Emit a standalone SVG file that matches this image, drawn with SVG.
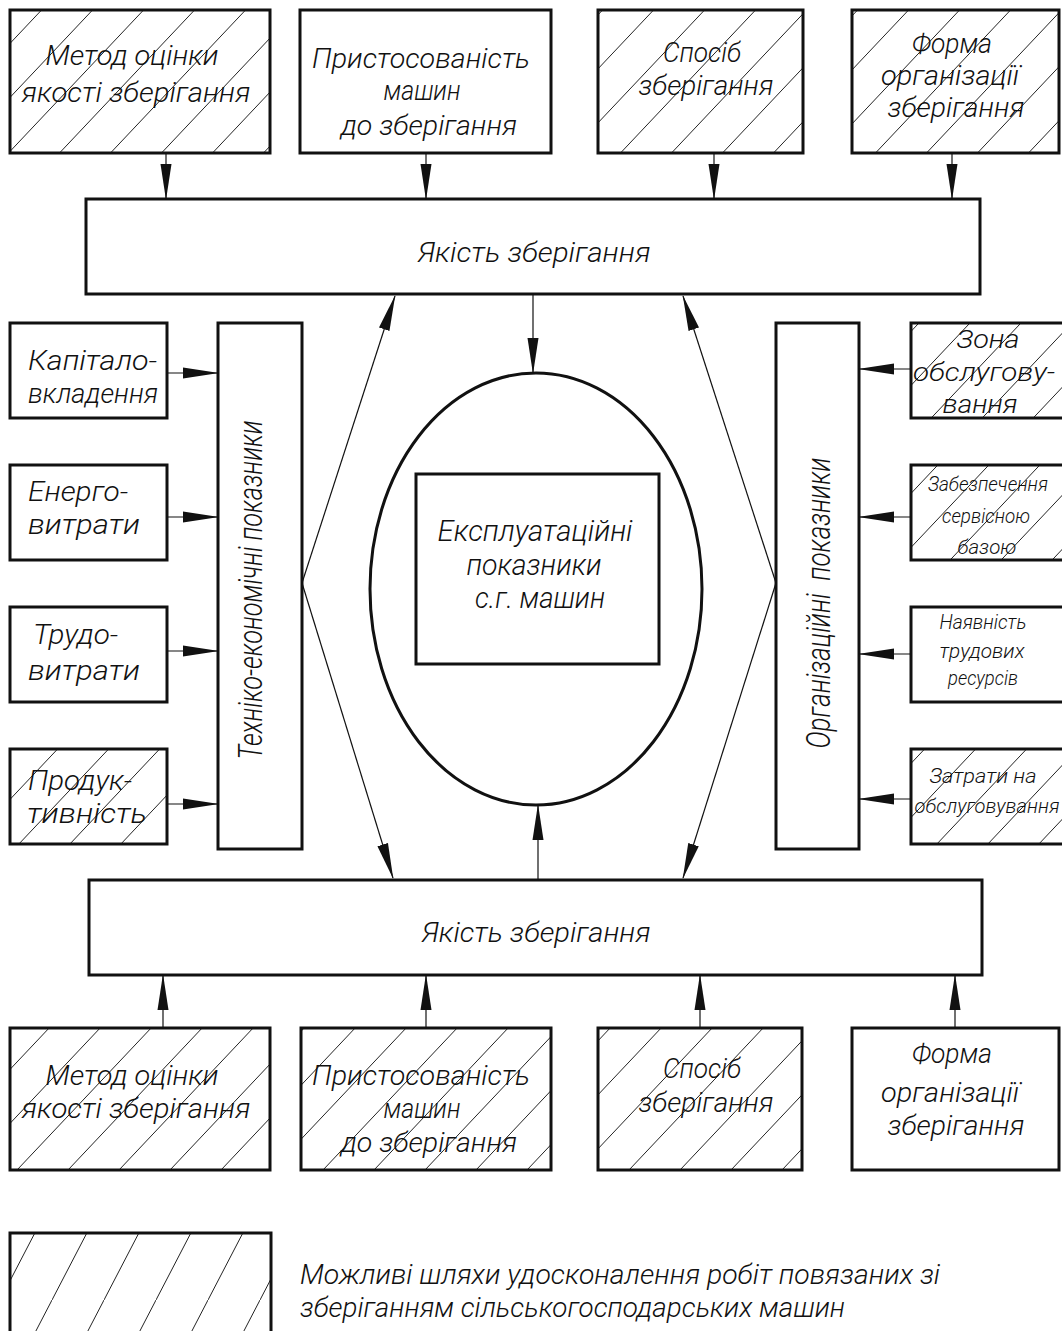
<svg xmlns="http://www.w3.org/2000/svg" width="1062" height="1331" viewBox="0 0 1062 1331">
<defs>
<pattern id="hatch" patternUnits="userSpaceOnUse" width="51" height="54">
<line x1="0" y1="54" x2="51" y2="0" stroke="#222" stroke-width="1"/>
</pattern>
<pattern id="hatch2" patternUnits="userSpaceOnUse" width="52" height="100">
<line x1="0" y1="100" x2="52" y2="0" stroke="#222" stroke-width="1"/>
</pattern>
<marker id="arr" markerUnits="userSpaceOnUse" markerWidth="36" markerHeight="12" refX="35" refY="6" orient="auto">
<path d="M0,0.5 L36,6 L0,11.5 Z" fill="#111"/>
</marker>
</defs>
<style>
.box{fill:#fff;stroke:#111;stroke-width:3}
.hb{fill:url(#hatch);stroke:#111;stroke-width:3}
.t{font-family:Roboto,'Liberation Sans',sans-serif;font-weight:300;font-style:italic;fill:#111;font-size:28px;text-anchor:middle}
.s{font-size:20px}
.m{font-size:26px}
.l{text-anchor:start}
.c{stroke:#111;stroke-width:1.2;fill:none;marker-end:url(#arr)}
</style>

<g id="top1">
<rect class="hb" x="10" y="10" width="260" height="143"/>
<text class="t" x="132" y="65" textLength="173" lengthAdjust="spacingAndGlyphs">Метод оцінки</text>
<text class="t" x="136" y="102" textLength="229" lengthAdjust="spacingAndGlyphs">якості зберігання</text>
</g>
<g id="top2">
<rect class="box" x="300" y="10" width="251" height="143"/>
<text class="t" x="421" y="68" textLength="218" lengthAdjust="spacingAndGlyphs">Пристосованість</text>
<text class="t" x="422" y="100" textLength="77" lengthAdjust="spacingAndGlyphs">машин</text>
<text class="t" x="429" y="135" textLength="176" lengthAdjust="spacingAndGlyphs">до зберігання</text>
</g>
<g id="top3">
<rect class="hb" x="598" y="10" width="205" height="143"/>
<text class="t" x="702" y="62" textLength="78" lengthAdjust="spacingAndGlyphs">Спосіб</text>
<text class="t" x="706" y="95" textLength="135" lengthAdjust="spacingAndGlyphs">зберігання</text>
</g>
<g id="top4">
<rect class="hb" x="852" y="10" width="207" height="143"/>
<text class="t" x="952" y="53" textLength="80" lengthAdjust="spacingAndGlyphs">Форма</text>
<text class="t" x="950" y="85" textLength="138" lengthAdjust="spacingAndGlyphs">організації</text>
<text class="t" x="956" y="117" textLength="137" lengthAdjust="spacingAndGlyphs">зберігання</text>
</g>

<g id="quality-top">
<rect class="box" x="86" y="199" width="894" height="95"/>
<text class="t" x="534" y="262" textLength="233" lengthAdjust="spacingAndGlyphs">Якість зберігання</text>
</g>

<g id="left1">
<rect class="box" x="10" y="323" width="157" height="95"/>
<text class="t l" x="28" y="370" textLength="129" lengthAdjust="spacingAndGlyphs">Капітало-</text>
<text class="t l" x="28" y="403" textLength="130" lengthAdjust="spacingAndGlyphs">вкладення</text>
</g>
<g id="left2">
<rect class="box" x="10" y="465" width="157" height="95"/>
<text class="t l" x="28" y="501" textLength="100" lengthAdjust="spacingAndGlyphs">Енерго-</text>
<text class="t l" x="28" y="534" textLength="112" lengthAdjust="spacingAndGlyphs">витрати</text>
</g>
<g id="left3">
<rect class="box" x="10" y="607" width="157" height="95"/>
<text class="t l" x="33" y="644" textLength="85" lengthAdjust="spacingAndGlyphs">Трудо-</text>
<text class="t l" x="28" y="680" textLength="112" lengthAdjust="spacingAndGlyphs">витрати</text>
</g>
<g id="left4">
<rect class="hb" x="10" y="749" width="157" height="95"/>
<text class="t l" x="28" y="790" textLength="104" lengthAdjust="spacingAndGlyphs">Продук-</text>
<text class="t l" x="27" y="823" textLength="120" lengthAdjust="spacingAndGlyphs">тивність</text>
</g>

<g id="tech-econ">
<rect class="box" x="218" y="323" width="84" height="526"/>
<text class="t" x="262" y="590" transform="rotate(-90 262 590)" style="font-size:34px" textLength="339" lengthAdjust="spacingAndGlyphs">Техніко-економічні показники</text>
</g>

<g id="org">
<rect class="box" x="776" y="323" width="83" height="526"/>
<text class="t" x="830" y="603" transform="rotate(-90 830 603)" style="font-size:34px;white-space:pre" textLength="291" lengthAdjust="spacingAndGlyphs">Організаційні  показники</text>
</g>

<g id="right1">
<rect class="hb" x="911" y="323" width="160" height="95"/>
<text class="t m" x="988" y="348" textLength="63" lengthAdjust="spacingAndGlyphs">Зона</text>
<text class="t m" x="984" y="381" textLength="142" lengthAdjust="spacingAndGlyphs">обслугову-</text>
<text class="t m" x="980" y="413" textLength="75" lengthAdjust="spacingAndGlyphs">вання</text>
</g>
<g id="right2">
<rect class="hb" x="911" y="465" width="160" height="95"/>
<text class="t s" x="988" y="491" textLength="120" lengthAdjust="spacingAndGlyphs">Забезпечення</text>
<text class="t s" x="986" y="523" textLength="88" lengthAdjust="spacingAndGlyphs">сервісною</text>
<text class="t s" x="987" y="554" textLength="59" lengthAdjust="spacingAndGlyphs">базою</text>
</g>
<g id="right3">
<rect class="box" x="911" y="607" width="160" height="95"/>
<text class="t s" x="983" y="629" textLength="87" lengthAdjust="spacingAndGlyphs">Наявність</text>
<text class="t s" x="982" y="658" textLength="85" lengthAdjust="spacingAndGlyphs">трудових</text>
<text class="t s" x="983" y="685" textLength="70" lengthAdjust="spacingAndGlyphs">ресурсів</text>
</g>
<g id="right4">
<rect class="hb" x="911" y="749" width="160" height="95"/>
<text class="t s" x="983" y="783" textLength="107" lengthAdjust="spacingAndGlyphs">Затрати на</text>
<text class="t s" x="987" y="813" textLength="145" lengthAdjust="spacingAndGlyphs">обслуговування</text>
</g>

<g id="center">
<ellipse cx="536" cy="589" rx="166" ry="216" fill="#fff" stroke="#111" stroke-width="3"/>
<rect class="box" x="416" y="474" width="243" height="190"/>
<text class="t" x="535" y="541" style="font-size:30px" textLength="195" lengthAdjust="spacingAndGlyphs">Експлуатаційні</text>
<text class="t" x="534" y="575" style="font-size:30px" textLength="135" lengthAdjust="spacingAndGlyphs">показники</text>
<text class="t" x="540" y="608" style="font-size:30px" textLength="130" lengthAdjust="spacingAndGlyphs">с.г. машин</text>
</g>

<g id="quality-bottom">
<rect class="box" x="89" y="880" width="893" height="95"/>
<text class="t" x="536" y="942" textLength="229" lengthAdjust="spacingAndGlyphs">Якість зберігання</text>
</g>

<g id="bot1">
<rect class="hb" x="10" y="1028" width="260" height="142"/>
<text class="t" x="132" y="1085" textLength="173" lengthAdjust="spacingAndGlyphs">Метод оцінки</text>
<text class="t" x="136" y="1118" textLength="229" lengthAdjust="spacingAndGlyphs">якості зберігання</text>
</g>
<g id="bot2">
<rect class="hb" x="301" y="1028" width="250" height="142"/>
<text class="t" x="421" y="1085" textLength="218" lengthAdjust="spacingAndGlyphs">Пристосованість</text>
<text class="t" x="422" y="1118" textLength="77" lengthAdjust="spacingAndGlyphs">машин</text>
<text class="t" x="429" y="1152" textLength="176" lengthAdjust="spacingAndGlyphs">до зберігання</text>
</g>
<g id="bot3">
<rect class="hb" x="598" y="1028" width="204" height="142"/>
<text class="t" x="702" y="1078" textLength="78" lengthAdjust="spacingAndGlyphs">Спосіб</text>
<text class="t" x="706" y="1112" textLength="135" lengthAdjust="spacingAndGlyphs">зберігання</text>
</g>
<g id="bot4">
<rect class="box" x="852" y="1028" width="207" height="142"/>
<text class="t" x="952" y="1063" textLength="80" lengthAdjust="spacingAndGlyphs">Форма</text>
<text class="t" x="950" y="1102" textLength="138" lengthAdjust="spacingAndGlyphs">організації</text>
<text class="t" x="956" y="1135" textLength="137" lengthAdjust="spacingAndGlyphs">зберігання</text>
</g>

<g id="legend">
<rect x="10" y="1233" width="261" height="110" fill="url(#hatch2)" stroke="#111" stroke-width="3"/>
<text class="t l" x="300" y="1284" textLength="640" lengthAdjust="spacingAndGlyphs">Можливі шляхи удосконалення робіт повязаних зі</text>
<text class="t l" x="300" y="1317" textLength="545" lengthAdjust="spacingAndGlyphs">зберіганням сільськогосподарських машин</text>
</g>

<g id="connectors">
<line class="c" x1="166" y1="153" x2="166" y2="199"/>
<line class="c" x1="426" y1="153" x2="426" y2="199"/>
<line class="c" x1="714" y1="153" x2="714" y2="199"/>
<line class="c" x1="952" y1="153" x2="952" y2="199"/>
<line class="c" x1="533" y1="294" x2="533" y2="373"/>
<line class="c" x1="302" y1="583" x2="395" y2="296"/>
<line class="c" x1="302" y1="583" x2="393" y2="878"/>
<line class="c" x1="776" y1="583" x2="683" y2="296"/>
<line class="c" x1="776" y1="583" x2="683" y2="878"/>
<line class="c" x1="538" y1="880" x2="538" y2="805"/>
<line class="c" x1="167" y1="373" x2="218" y2="373"/>
<line class="c" x1="167" y1="517" x2="218" y2="517"/>
<line class="c" x1="167" y1="651" x2="218" y2="651"/>
<line class="c" x1="167" y1="804" x2="218" y2="804"/>
<line class="c" x1="911" y1="369" x2="859" y2="369"/>
<line class="c" x1="911" y1="517" x2="859" y2="517"/>
<line class="c" x1="911" y1="654" x2="859" y2="654"/>
<line class="c" x1="911" y1="799" x2="859" y2="799"/>
<line class="c" x1="163" y1="1028" x2="163" y2="975"/>
<line class="c" x1="426" y1="1028" x2="426" y2="975"/>
<line class="c" x1="700" y1="1028" x2="700" y2="975"/>
<line class="c" x1="955" y1="1028" x2="955" y2="975"/>
</g>
</svg>
